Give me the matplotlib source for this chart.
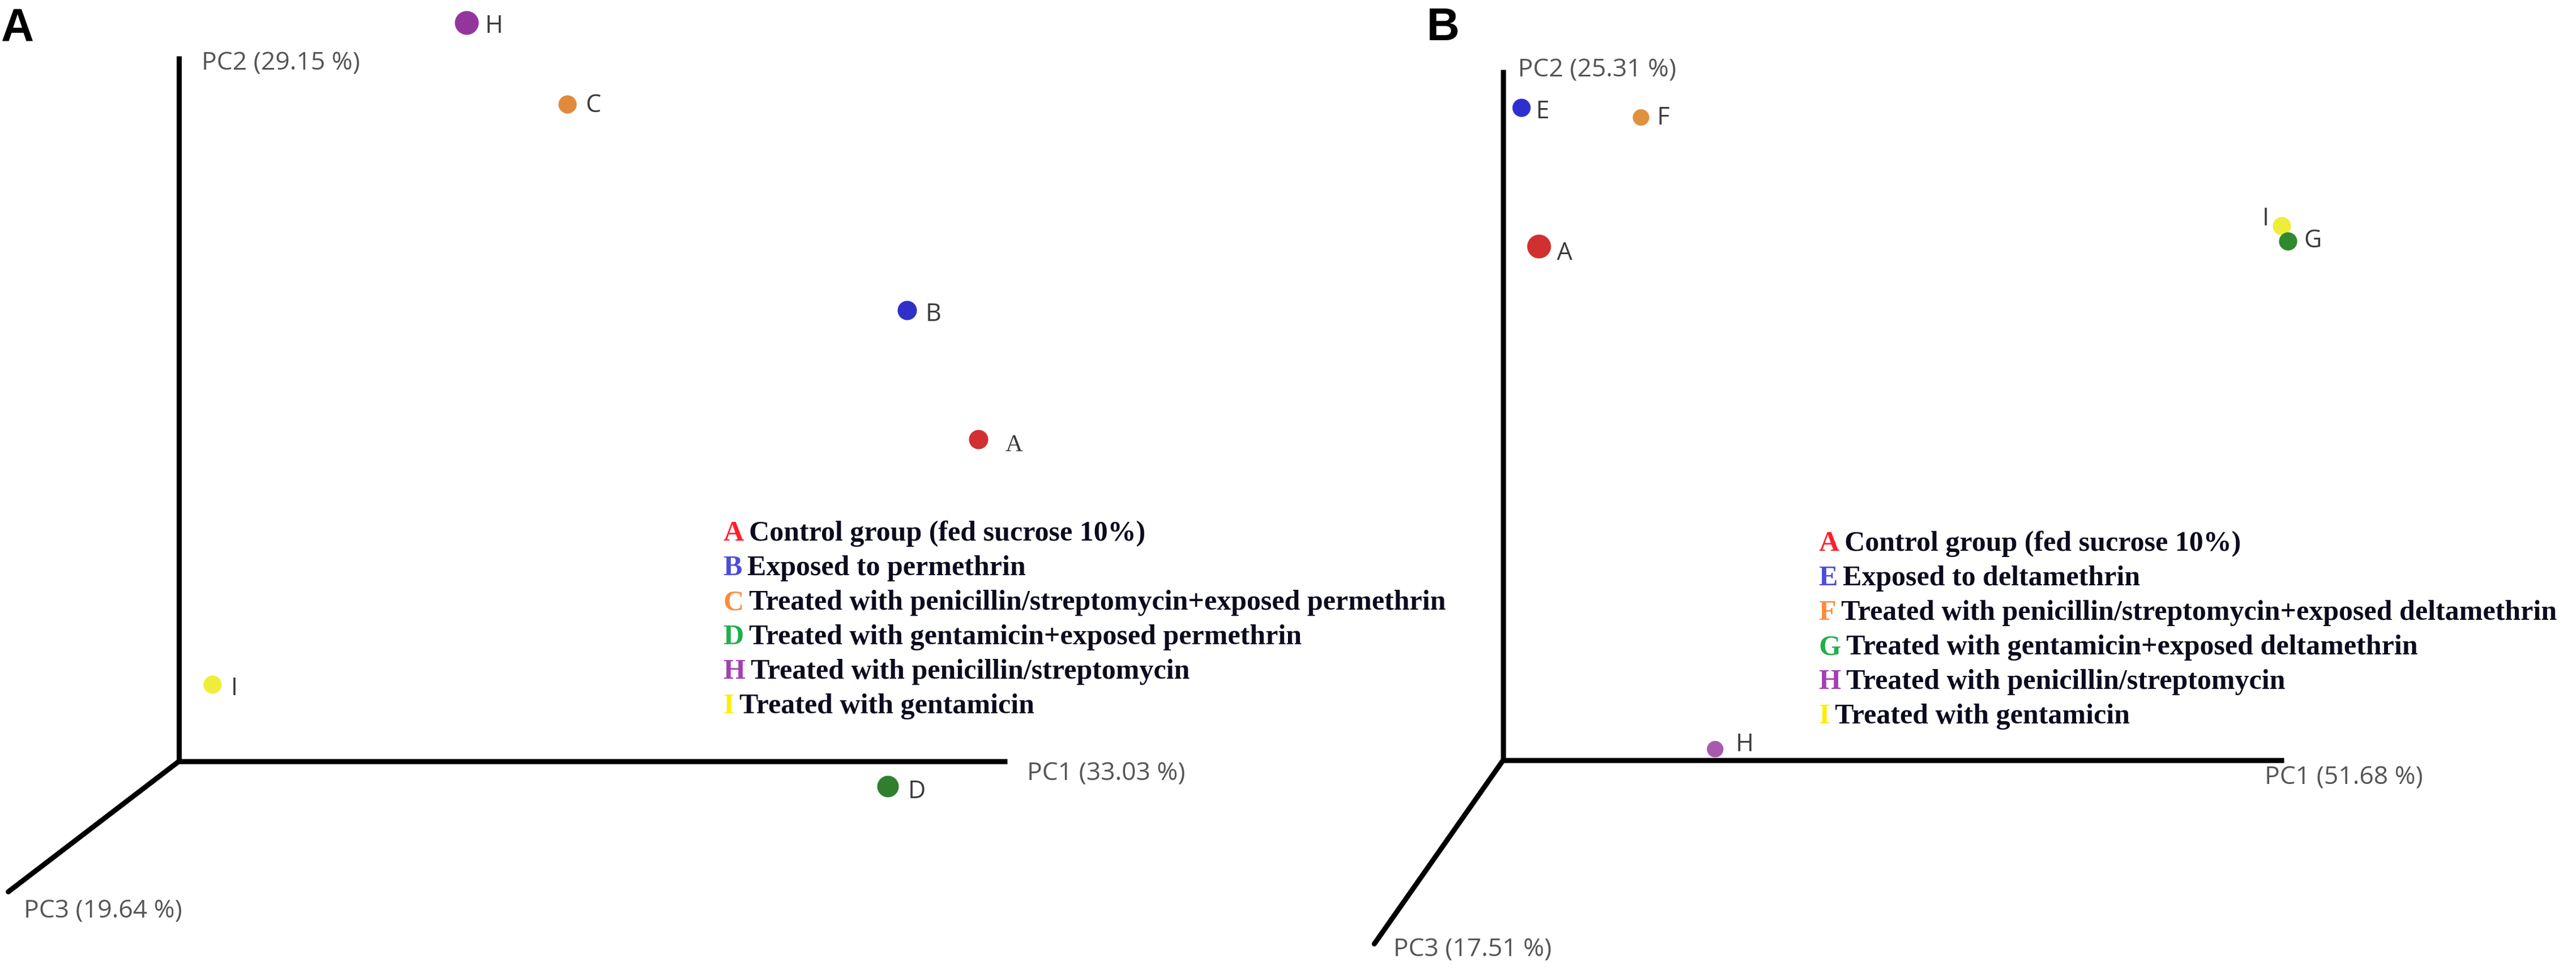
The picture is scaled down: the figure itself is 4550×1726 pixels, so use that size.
import matplotlib
matplotlib.use("Agg")
import matplotlib.pyplot as plt

W, H = 4550, 1726

# ---- panel A (permethrin) : projected positions, PC1 axis end = 1, PC2 axis end = 1
a_groups = ["H", "C", "B", "A", "I", "D"]
a_pc1 = [0.347, 0.469, 0.879, 0.965, 0.040, 0.856]
a_pc2 = [1.047, 0.932, 0.640, 0.457, 0.109, -0.035]
a_axis_names = ["PC1 (33.03 %)", "PC2 (29.15 %)", "PC3 (19.64 %)"]
a_legend_keys = ["A", "B", "C", "D", "H", "I"]
a_legend_text = ["Control group (fed sucrose 10%)",
                 "Exposed to permethrin",
                 "Treated with penicillin/streptomycin+exposed permethrin",
                 "Treated with gentamicin+exposed permethrin",
                 "Treated with penicillin/streptomycin",
                 "Treated with gentamicin"]

# ---- panel B (deltamethrin)
b_groups = ["E", "F", "A", "I", "G", "H"]
b_pc1 = [0.023, 0.176, 0.046, 0.997, 1.005, 0.271]
b_pc2 = [0.945, 0.931, 0.744, 0.774, 0.752, 0.016]
b_axis_names = ["PC1 (51.68 %)", "PC2 (25.31 %)", "PC3 (17.51 %)"]
b_legend_keys = ["A", "E", "F", "G", "H", "I"]
b_legend_text = ["Control group (fed sucrose 10%)",
                 "Exposed to deltamethrin",
                 "Treated with penicillin/streptomycin+exposed deltamethrin",
                 "Treated with gentamicin+exposed deltamethrin",
                 "Treated with penicillin/streptomycin",
                 "Treated with gentamicin"]

# colours of the spheres and of the legend letters
point_col = {"A": "#d23030", "B": "#3030c8", "C": "#e28a3c", "D": "#2f7f2f",
             "E": "#2f2fd0", "F": "#e0913f", "G": "#2f8a2f", "H": "#92369c",
             "I": "#eeee3a"}
legend_col = {"A": "#ff1f2a", "B": "#4b4bdc", "C": "#ff8a3a", "D": "#1fb04a",
              "E": "#4b4bdc", "F": "#ff8a3a", "G": "#1fb04a", "H": "#a43fb4",
              "I": "#ffee00"}

a_style = dict(
    pix=(0, 2275), origin=(316, 1345), lens=(1463, 1246), pc3_end=(-0.206, -0.185),
    sizes=[830, 470, 530, 530, 470, 670],
    offs=[(33, 6), (32, 3), (33, 8), (48, 11), (33, 8), (35, 10)],
    name_pos=[(1.024, -0.018), (0.027, 0.989), (-0.187, -0.213)],
    legend_xy=(0.657, 0.3226), letter="A", letter_x=2)
b_style = dict(
    pix=(2275, 4550), origin=(2655, 1343), lens=(1379, 1220), pc3_end=(-0.165, -0.266),
    sizes=[470, 380, 830, 470, 470, 380],
    offs=[(26, 8), (29, 2), (32, 12), (-22, -12), (28, 0), (37, -8)],
    name_pos=[(0.975, -0.026), (0.019, 0.999), (-0.141, -0.275)],
    legend_xy=(0.404, 0.3131), letter="B", letter_x=2520)

fig = plt.figure(figsize=(W / 100, H / 100), dpi=100)


def draw_panel(groups, pc1, pc2, names, keys, texts, st):
    x0, x1 = st["pix"]
    ox, oy = st["origin"]
    lx, ly = st["lens"]
    ax = fig.add_axes([x0 / W, 0, (x1 - x0) / W, 1])
    ax.set_xlim((x0 - ox) / lx, (x1 - ox) / lx)
    ax.set_ylim((oy - H) / ly, oy / ly)
    ax.axis("off")

    # the three PC axes
    ax.plot([0, 1], [0, 0], color="black", lw=6.5, solid_capstyle="butt")
    ax.plot([0, 0], [0, 1], color="black", lw=6.5, solid_capstyle="butt")
    ax.plot([0, st["pc3_end"][0]], [0, st["pc3_end"][1]], color="black", lw=6.5,
            solid_capstyle="round")
    for name, (nx, ny) in zip(names, st["name_pos"]):
        ax.text(nx, ny, name, fontsize=32, family="Open Sans", color="#555555",
                ha="left", va="center")

    # samples
    for g, x, y, s, (dx, dy) in zip(groups, pc1, pc2, st["sizes"], st["offs"]):
        c = point_col[g]
        if g == "H" and st["letter"] == "B":
            c = "#a85aae"
        ax.scatter([x], [y], s=s, color=c, edgecolors=c, linewidths=1.5,
                   zorder=3, clip_on=False)
        fam = "Liberation Serif" if (g == "A" and st["letter"] == "A") else "Open Sans"
        ax.annotate(g, (x, y), xytext=(dx * 0.72, -dy * 0.72), textcoords="offset points",
                    fontsize=31, family=fam, color="#3a3a3a",
                    ha="right" if dx < 0 else "left", va="center")

    # coloured-letter legend
    lx0, ly0 = st["legend_xy"]
    step = 61 / ly
    for i, (k, t) in enumerate(zip(keys, texts)):
        let = ax.text(lx0, ly0 - i * step, k, fontsize=36, family="Liberation Serif",
                      fontweight="bold", color=legend_col[k], ha="left", va="center")
        ax.annotate(t, xy=(1, 0), xycoords=let, xytext=(7, 0), textcoords="offset points",
                    fontsize=36, family="Liberation Serif", fontweight="bold",
                    color="#0b0b1e", ha="left", va="bottom")

    fig.text(st["letter_x"] / W, 1 - 12 / H, st["letter"], fontsize=58,
             family="Liberation Sans", fontweight="bold", ha="left", va="top")


draw_panel(a_groups, a_pc1, a_pc2, a_axis_names, a_legend_keys, a_legend_text, a_style)
draw_panel(b_groups, b_pc1, b_pc2, b_axis_names, b_legend_keys, b_legend_text, b_style)

fig.savefig("out.png", dpi=100, facecolor="white")
